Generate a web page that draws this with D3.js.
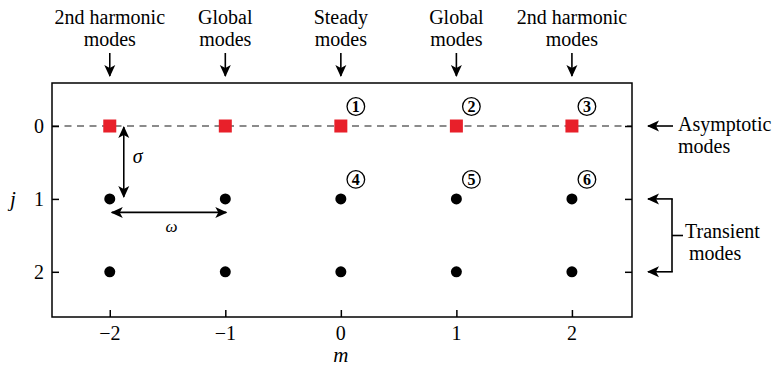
<!DOCTYPE html>
<html>
<head><meta charset="utf-8"></head>
<body style="margin:0">
<svg width="777" height="367"></svg>
<script src="https://cdn.jsdelivr.net/npm/d3@7"></script>
<script>
    // azimuthal order m and radial order j
    var mValues = [-2, -1, 0, 1, 2];
    var jValues = [1, 2];
    var asymptoticJ = 0;
    var numbered = [
        {m: 0, j: 0, n: "1"}, {m: 1, j: 0, n: "2"}, {m: 2, j: 0, n: "3"},
        {m: 0, j: 1, n: "4"}, {m: 1, j: 1, n: "5"}, {m: 2, j: 1, n: "6"}
    ];
    var topLabels = [
        {m: -2, lines: ["2nd harmonic", "modes"]},
        {m: -1, lines: ["Global", "modes"]},
        {m: 0, lines: ["Steady", "modes"]},
        {m: 1, lines: ["Global", "modes"]},
        {m: 2, lines: ["2nd harmonic", "modes"]}
    ];

    var svg = d3.select("svg");

    var x = d3.scaleLinear().domain([-2.5, 2.52]).range([52, 632]);
    var y = d3.scaleLinear().domain([-0.59, 2.62]).range([83, 317]);

    function txt(px, py, s, size) {
        return svg.append("text").attr("x", px).attr("y", py)
            .style("font-family", "'Times New Roman'").style("font-size", size + "px")
            .text(s);
    }

    svg.append("defs").append("marker")
        .attr("id", "head")
        .attr("viewBox", "-12 -6 14 12")
        .attr("refX", 0)
        .attr("refY", 0)
        .attr("orient", "auto-start-reverse")
        .attr("markerUnits", "userSpaceOnUse")
        .attr("markerWidth", 14)
        .attr("markerHeight", 12)
        .append("path")
        .attr("d", "M1,0 L-11,-5.5 L-8,0 L-11,5.5 Z")
        .attr("fill", "#000");

    function arrow(x1, y1, x2, y2, both) {
        var l = svg.append("line")
            .attr("x1", x1).attr("y1", y1).attr("x2", x2).attr("y2", y2)
            .attr("stroke", "#000").attr("stroke-width", 1.6)
            .attr("marker-end", "url(#head)");
        if (both) l.attr("marker-start", "url(#head)");
        return l;
    }

    // dashed line of asymptotic modes
    svg.append("line")
        .attr("x1", x.range()[0]).attr("x2", x.range()[1])
        .attr("y1", y(asymptoticJ)).attr("y2", y(asymptoticJ))
        .attr("stroke", "#666")
        .attr("stroke-width", 1.5)
        .attr("stroke-dasharray", "7,5.5");

    // ticks only, labels drawn as plain text below
    var gx = svg.append("g")
        .attr("transform", "translate(0," + y.range()[1] + ")")
        .call(d3.axisBottom(x).tickValues(mValues).tickFormat("").tickSizeInner(-7).tickSizeOuter(0));
    var gy = svg.append("g")
        .attr("transform", "translate(" + x.range()[0] + ",0)")
        .call(d3.axisLeft(y).tickValues([0, 1, 2]).tickFormat("").tickSizeInner(-7).tickSizeOuter(0));
    var gr = svg.append("g")
        .attr("transform", "translate(" + x.range()[1] + ",0)")
        .call(d3.axisRight(y).tickValues([0, 1, 2]).tickFormat("").tickSizeInner(-7).tickSizeOuter(0));
    [gx, gy, gr].forEach(function (g) {
        g.select(".domain").remove();
        g.selectAll(".tick text").remove();
        g.selectAll(".tick line").attr("stroke", "#000").attr("stroke-width", 1.5);
    });

    var fmt = d3.format("d");
    mValues.forEach(function (m) {
        txt(x(m), y.range()[1] + 23, fmt(m), 20).attr("text-anchor", "middle");
    });
    [0, 1, 2].forEach(function (j) {
        txt(x.range()[0] - 8, y(j) + 7, fmt(j), 20).attr("text-anchor", "end");
    });

    svg.append("rect")
        .attr("x", x.range()[0]).attr("y", y.range()[0])
        .attr("width", x.range()[1] - x.range()[0])
        .attr("height", y.range()[1] - y.range()[0])
        .attr("fill", "none").attr("stroke", "#000").attr("stroke-width", 1.5);

    txt(x(0), 362, "m", 21).attr("text-anchor", "middle").style("font-style", "italic");
    txt(13, 206, "j", 21).attr("text-anchor", "middle").style("font-style", "italic");

    // transient modes
    var grid = [];
    jValues.forEach(function (j) { mValues.forEach(function (m) { grid.push({m: m, j: j}); }); });
    svg.selectAll(".dot").data(grid).enter().append("circle")
        .attr("class", "dot")
        .attr("cx", function (d) { return x(d.m); })
        .attr("cy", function (d) { return y(d.j); })
        .attr("r", 5.5)
        .attr("fill", "#000");

    // asymptotic modes
    svg.selectAll(".sq").data(mValues).enter().append("rect")
        .attr("class", "sq")
        .attr("x", function (d) { return x(d) - 6.5; })
        .attr("y", y(asymptoticJ) - 6.5)
        .attr("width", 13).attr("height", 13)
        .attr("fill", "#e8202a");

    // circled numbers
    numbered.forEach(function (d) {
        var cx = x(d.m) + 15, cy = y(d.j) - 19.5;
        svg.append("circle").attr("cx", cx).attr("cy", cy).attr("r", 8.8)
            .attr("fill", "none").attr("stroke", "#000").attr("stroke-width", 1.3);
        txt(cx, cy + 5.5, d.n, 16).attr("text-anchor", "middle").style("font-weight", "bold");
    });

    // top labels and arrows
    topLabels.forEach(function (d) {
        d.lines.forEach(function (line, i) {
            txt(x(d.m), 24 + i * 22, line, 20).attr("text-anchor", "middle");
        });
        arrow(x(d.m), 53, x(d.m), 76);
    });

    // sigma and omega spacings
    arrow(x(-2) + 14, y(0) + 1, x(-2) + 14, y(1) - 2, true);
    txt(x(-2) + 23, y(0) + 37, "σ", 20).style("font-style", "italic");
    arrow(x(-2) + 2, y(1) + 13.5, x(-1) + 1, y(1) + 13.5, true);
    txt((x(-2) + x(-1)) / 2 + 4, y(1) + 33, "ω", 17).attr("text-anchor", "middle").style("font-style", "italic");

    // right annotations
    arrow(673, y(0), 648, y(0));
    txt(678, 131, "Asymptotic", 20);
    txt(678, 153, "modes", 20);

    svg.append("line").attr("x1", 672).attr("x2", 672).attr("y1", y(1)).attr("y2", y(2))
        .attr("stroke", "#000").attr("stroke-width", 1.6);
    jValues.forEach(function (j) { arrow(672.8, y(j), 648, y(j)); });
    svg.append("line").attr("x1", 672).attr("x2", 683).attr("y1", 235.5).attr("y2", 235.5)
        .attr("stroke", "#000").attr("stroke-width", 1.6);
    txt(685, 238, "Transient", 20);
    txt(689, 260, "modes", 20);
</script>
</body>
</html>
